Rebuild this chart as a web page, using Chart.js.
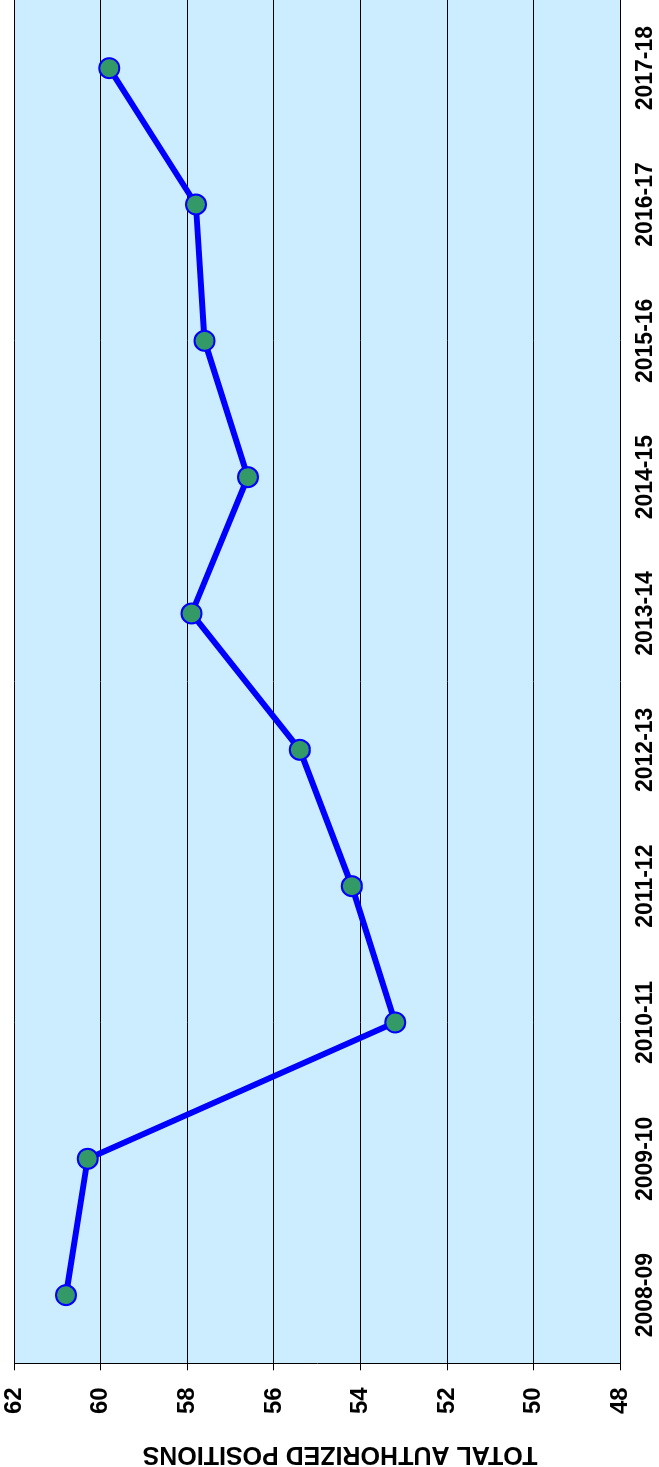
<!DOCTYPE html>
<html>
<head>
<meta charset="utf-8">
<title>Total Authorized Positions</title>
<script src="https://cdn.jsdelivr.net/npm/chart.js@4.4.1/dist/chart.umd.min.js"></script>
<style>
  html, body { margin: 0; padding: 0; background: #fff; }
  body { width: 659px; height: 1467px; overflow: hidden; position: relative; }
  /* The chart is laid out landscape and turned a quarter turn to read sideways */
  #wrap {
    position: absolute; left: 0; top: 0;
    width: 1467px; height: 659px;
    transform-origin: 0 0;
    transform: translate(0, 1467px) rotate(-90deg);
  }
  canvas { display: block; }
</style>
</head>
<body>
<div id="wrap"><canvas id="chart" width="1467" height="659"></canvas></div>
<script>
// Fiscal years
const categories = ['2008-09', '2009-10', '2010-11', '2011-12', '2012-13',
                    '2013-14', '2014-15', '2015-16', '2016-17', '2017-18'];
// Total authorized positions per year
const positions = [60.8, 60.3, 53.2, 54.2, 55.4, 57.9, 56.6, 57.6, 57.8, 59.8];
// Value axis range and step
const axisMin = 48;
const axisMax = 62;
const axisStep = 2;
const axisTitle = 'TOTAL AUTHORIZED POSITIONS';

const fontFamily = "'Liberation Sans', Arial, Helvetica, sans-serif";

// Fill the plotting area with the pale blue background
const plotBackground = {
  id: 'plotBackground',
  beforeDraw(chart) {
    const { ctx, chartArea: a } = chart;
    ctx.save();
    ctx.fillStyle = '#CCECFF';
    ctx.fillRect(a.left, a.top, a.right - a.left, a.bottom - a.top);
    ctx.restore();
  }
};

// Value axis title, centred on the full chart height along the left edge
const valueAxisTitle = {
  id: 'valueAxisTitle',
  afterDraw(chart) {
    const { ctx } = chart;
    ctx.save();
    ctx.translate(13, 340);
    ctx.rotate(-Math.PI / 2);
    ctx.fillStyle = '#000';
    ctx.font = 'bold 25px ' + fontFamily;
    ctx.textAlign = 'center';
    ctx.textBaseline = 'middle';
    ctx.fillText(axisTitle, 0, 0);
    ctx.restore();
  }
};

new Chart(document.getElementById('chart'), {
  type: 'line',
  data: {
    labels: categories,
    datasets: [{
      data: positions,
      borderColor: '#0000FF',
      borderWidth: 6,
      tension: 0,
      fill: false,
      pointRadius: 10,
      pointHoverRadius: 10,
      pointBorderWidth: 2,
      pointBackgroundColor: '#339966',
      pointBorderColor: '#0000FF'
    }]
  },
  options: {
    responsive: false,
    animation: false,
    devicePixelRatio: 1,
    layout: { padding: 0, autoPadding: false },
    plugins: {
      legend: { display: false },
      tooltip: { enabled: false }
    },
    scales: {
      x: {
        type: 'category',
        offset: true,
        grid: { display: false, drawTicks: false },
        border: { display: false },
        ticks: {
          color: '#000',
          font: { family: fontFamily, size: 23, weight: 'bold', lineHeight: 1.2 },
          padding: 11,
          maxRotation: 0,
          autoSkip: false
        },
        afterFit(scale) { scale.height = 38.6; }
      },
      y: {
        min: axisMin,
        max: axisMax,
        grid: { color: '#000', lineWidth: 1, drawTicks: true, tickLength: 7 },
        border: { display: true, color: '#000', width: 1 },
        ticks: {
          stepSize: axisStep,
          color: '#000',
          font: { family: fontFamily, size: 24, weight: 'bold', lineHeight: 1.2 },
          padding: 17
        },
        afterFit(scale) {
          scale.width = 103.7;
          scale.paddingTop = 14;
          scale.paddingBottom = 0;
        }
      }
    }
  },
  plugins: [plotBackground, valueAxisTitle]
});
</script>
</body>
</html>
